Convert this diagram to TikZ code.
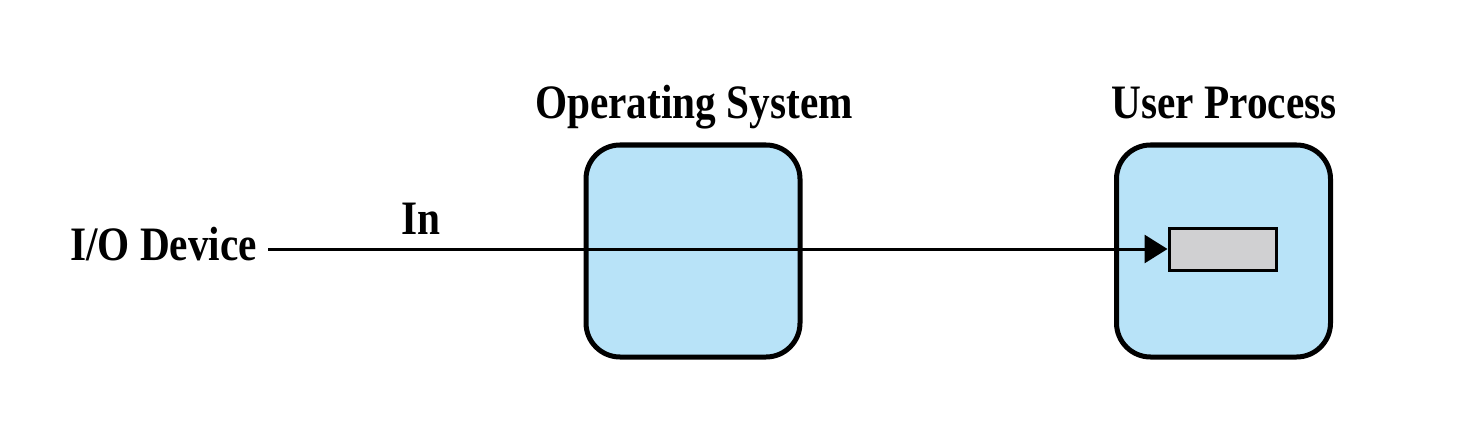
\documentclass[tikz,border=0pt]{standalone}
\usepackage{fontspec}
\setmainfont{Liberation Serif}[FakeStretch=0.86]
\usepackage{tikz}
\usetikzlibrary{arrows.meta, positioning}

\definecolor{procblue}{RGB}{184,227,248}
\definecolor{bufgray}{RGB}{208,208,210}

\begin{document}
\begin{tikzpicture}[x=0.5pt, y=-0.5pt,
    txt/.style={inner sep=0pt, font=\bfseries\fontsize{24}{28}\selectfont},
    procbox/.style={draw, line width=2.5pt, fill=procblue, rounded corners=17pt,
        minimum width=107pt, minimum height=106pt, inner sep=0pt},
    bufbox/.style={draw, line width=1.5pt, fill=bufgray,
        minimum width=53.5pt, minimum height=21pt, inner sep=0pt}]

    \useasboundingbox (0,0) rectangle (1461,444);

    % Define nodes
    \node (os) [procbox] at (693,251) {};
    \node (up) [procbox] at (1223.5,251) {};
    \node (buf) [bufbox] at (1222.5,249) {};
    \node (io) [txt, anchor=base east, outer xsep=5.5pt] at (268,260) {I/O Device};
    \node (oslbl) [txt, anchor=base] at (694,119) {Operating System};
    \node (uplbl) [txt, anchor=base] at (1224,119) {User Process};

    % Draw arrows
    \draw[-{Triangle[length=11.5pt, width=14pt]}, line width=1.5pt]
        (io.east |- buf.west) -- node[txt, pos=0.17, anchor=south, yshift=6.5pt] (in) {In} (buf.west);

\end{tikzpicture}
\end{document}
